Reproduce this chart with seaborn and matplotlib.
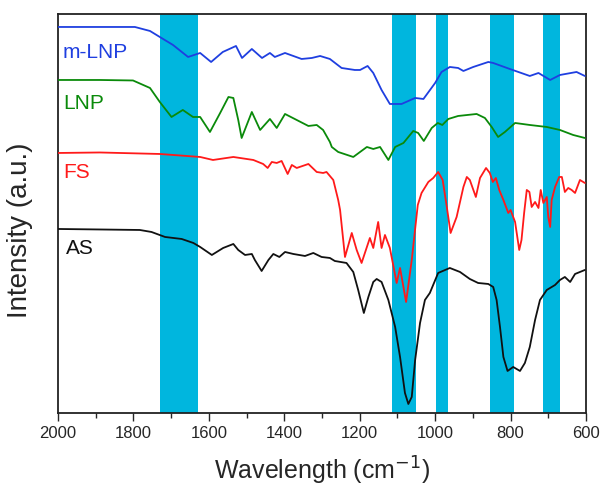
import matplotlib
matplotlib.use("Agg")
import matplotlib.pyplot as plt
import seaborn as sns
import pandas as pd

# FTIR spectra, offset vertically (a.u.)
mlnp_wn = [2000, 1889, 1796, 1756, 1730, 1695, 1655, 1623, 1594, 1563, 1528, 1512, 1486, 1459,
           1438, 1425, 1398, 1354, 1327, 1305, 1279, 1248, 1213, 1199, 1179, 1164, 1142, 1120,
           1089, 1053, 1031, 1000, 983, 961, 939, 925, 899, 859, 846, 802, 749, 726, 695, 669,
           625, 603]
mlnp_int = [38.6, 38.6, 38.6, 38.2, 37.6, 36.8, 35.6, 36.0, 35.1, 36.1, 36.7, 35.5, 36.4, 35.5,
            36.0, 35.6, 36.0, 35.4, 35.5, 35.7, 35.4, 34.5, 34.3, 34.3, 34.7, 34.0, 32.3, 30.9,
            30.9, 31.5, 31.4, 33.0, 34.1, 34.6, 34.5, 34.2, 34.6, 35.1, 35.0, 34.4, 33.7, 34.0,
            33.3, 33.8, 34.1, 33.7]

lnp_wn = [2000, 1889, 1801, 1756, 1730, 1699, 1669, 1642, 1623, 1597, 1570, 1548, 1535, 1522,
          1513, 1486, 1464, 1438, 1420, 1398, 1367, 1336, 1314, 1297, 1279, 1274, 1257, 1217,
          1181, 1164, 1146, 1124, 1106, 1084, 1058, 1045, 1030, 1009, 993, 981, 965, 939, 890,
          868, 850, 833, 815, 788, 749, 704, 669, 634, 603]
lnp_int = [33.3, 33.3, 33.25, 32.5, 31.1, 29.6, 30.3, 29.6, 29.6, 28.1, 30.0, 31.6, 31.5, 29.3,
           27.5, 30.1, 28.3, 29.4, 28.5, 29.9, 29.3, 28.7, 28.8, 28.3, 27.1, 26.6, 26.1, 25.6,
           26.6, 26.4, 26.6, 25.3, 26.6, 27.0, 28.2, 28.0, 27.2, 28.5, 29.0, 28.8, 29.4, 29.7,
           29.9, 29.5, 28.6, 27.6, 28.1, 29.0, 28.8, 28.6, 28.3, 27.8, 27.5]

fs_wn = [2000, 1889, 1730, 1623, 1589, 1535, 1482, 1456, 1444, 1433, 1420, 1407, 1391, 1380,
         1367, 1336, 1314, 1297, 1288, 1270, 1257, 1252, 1239, 1221, 1208, 1195, 1173, 1164,
         1151, 1142, 1133, 1120, 1102, 1093, 1077, 1062, 1046, 1036, 1018, 1005, 992, 980, 969,
         959, 943, 925, 916, 908, 892, 881, 865, 855, 847, 839, 830, 819, 806, 800, 788, 777,
         771, 764, 757, 750, 744, 735, 726, 720, 713, 704, 700, 695, 691, 682, 671, 664, 656,
         647, 638, 629, 616, 603]
fs_int = [26.0, 26.05, 25.9, 25.6, 25.3, 25.6, 25.3, 24.9, 24.5, 25.1, 25.0, 25.2, 23.9, 24.8,
          24.5, 24.9, 24.1, 24.0, 24.1, 23.3, 21.3, 20.3, 15.6, 18.0, 16.3, 15.0, 17.5, 16.5,
          19.1, 16.5, 17.8, 16.5, 13.0, 14.5, 11.1, 15.3, 20.8, 22.0, 23.1, 23.5, 24.1, 23.3,
          20.6, 18.0, 19.6, 22.6, 23.6, 23.3, 21.6, 23.5, 24.5, 24.0, 23.1, 23.5, 22.3, 21.3,
          20.0, 20.3, 19.1, 16.3, 17.3, 20.0, 22.3, 22.1, 20.6, 21.1, 20.5, 22.3, 21.0, 21.6,
          19.6, 18.6, 21.3, 22.6, 23.6, 23.6, 22.1, 22.5, 22.3, 22.0, 23.3, 23.0]

as_wn = [2000, 1889, 1783, 1752, 1716, 1672, 1641, 1623, 1592, 1562, 1535, 1522, 1504, 1486,
         1478, 1460, 1442, 1429, 1413, 1398, 1376, 1345, 1323, 1301, 1279, 1266, 1235, 1217,
         1204, 1189, 1177, 1164, 1155, 1142, 1124, 1106, 1093, 1080, 1071, 1062, 1053, 1040,
         1027, 1014, 992, 961, 934, 908, 886, 859, 846, 837, 828, 819, 808, 793, 775, 762, 749,
         735, 722, 704, 682, 669, 656, 642, 629, 616, 603]
as_int = [18.4, 18.35, 18.3, 18.1, 17.6, 17.4, 17.0, 16.6, 15.8, 16.5, 16.9, 16.3, 15.8, 15.9,
          15.3, 14.2, 15.3, 15.9, 15.6, 16.1, 15.9, 15.7, 16.0, 15.6, 15.5, 15.2, 15.0, 14.1,
          12.3, 10.0, 11.6, 13.1, 13.4, 13.1, 11.3, 8.6, 5.6, 2.0, 0.9, 1.6, 5.3, 9.0, 11.3,
          12.0, 14.0, 14.5, 14.1, 13.4, 13.0, 12.9, 12.6, 11.3, 8.6, 5.6, 4.2, 4.6, 4.2, 5.0,
          6.6, 9.3, 11.3, 12.3, 12.8, 13.3, 13.6, 13.1, 13.9, 14.1, 14.3]

# highlighted absorption bands (cm-1)
band_hi = [1730, 1115, 998, 855, 715]
band_lo = [1630, 1052, 965, 790, 670]

names = ["m-LNP", "LNP", "FS", "AS"]
colors = ["#1f3fe0", "#0a8a0a", "#ff1a1a", "#111111"]
label_pos = [(1988, 36.0), (1985, 30.9), (1985, 24.0), (1978, 16.4)]

spectra = [(mlnp_wn, mlnp_int), (lnp_wn, lnp_int), (fs_wn, fs_int), (as_wn, as_int)]

sns.set_style("ticks")
plt.rcParams['font.family'] = ['Liberation Sans', 'DejaVu Sans']

fig = plt.figure(figsize=(6.02, 4.87), dpi=100)
ax = fig.add_axes([0.0963, 0.152, 0.8771, 0.8193])

for hi, lo in zip(band_hi, band_lo):
    ax.axvspan(lo, hi, color="#00b6de", lw=0, zorder=0)

for name, color, (wn, inten) in zip(names, colors, spectra):
    df = pd.DataFrame({"wn": wn, "intensity": inten})
    sns.lineplot(data=df, x="wn", y="intensity", color=color, lw=1.3, ax=ax, zorder=3,
                 solid_joinstyle="round")

for name, color, (lx, ly) in zip(names, colors, label_pos):
    ax.text(lx, ly, name, color=color, fontsize=15, va="center", ha="left")

ax.set_xlim(2000, 600)
ax.set_ylim(0, 39.9)
ax.set_xticks(range(2000, 599, -200))
ax.set_xticks(range(1900, 600, -200), minor=True)
ax.set_yticks([])
ax.tick_params(axis="x", which="major", length=6, width=1, labelsize=12, direction="out")
ax.tick_params(axis="x", which="minor", length=3.5, width=1, direction="out")
ax.set_xlabel("Wavelength (cm$^{-1}$)", fontsize=18, labelpad=10)
ax.set_ylabel("Intensity (a.u.)", fontsize=20)
ax.yaxis.set_label_coords(-0.048, 0.459)
for sp in ax.spines.values():
    sp.set_linewidth(1.3)
    sp.set_color("#222222")

fig.savefig("out.png", dpi=100)
